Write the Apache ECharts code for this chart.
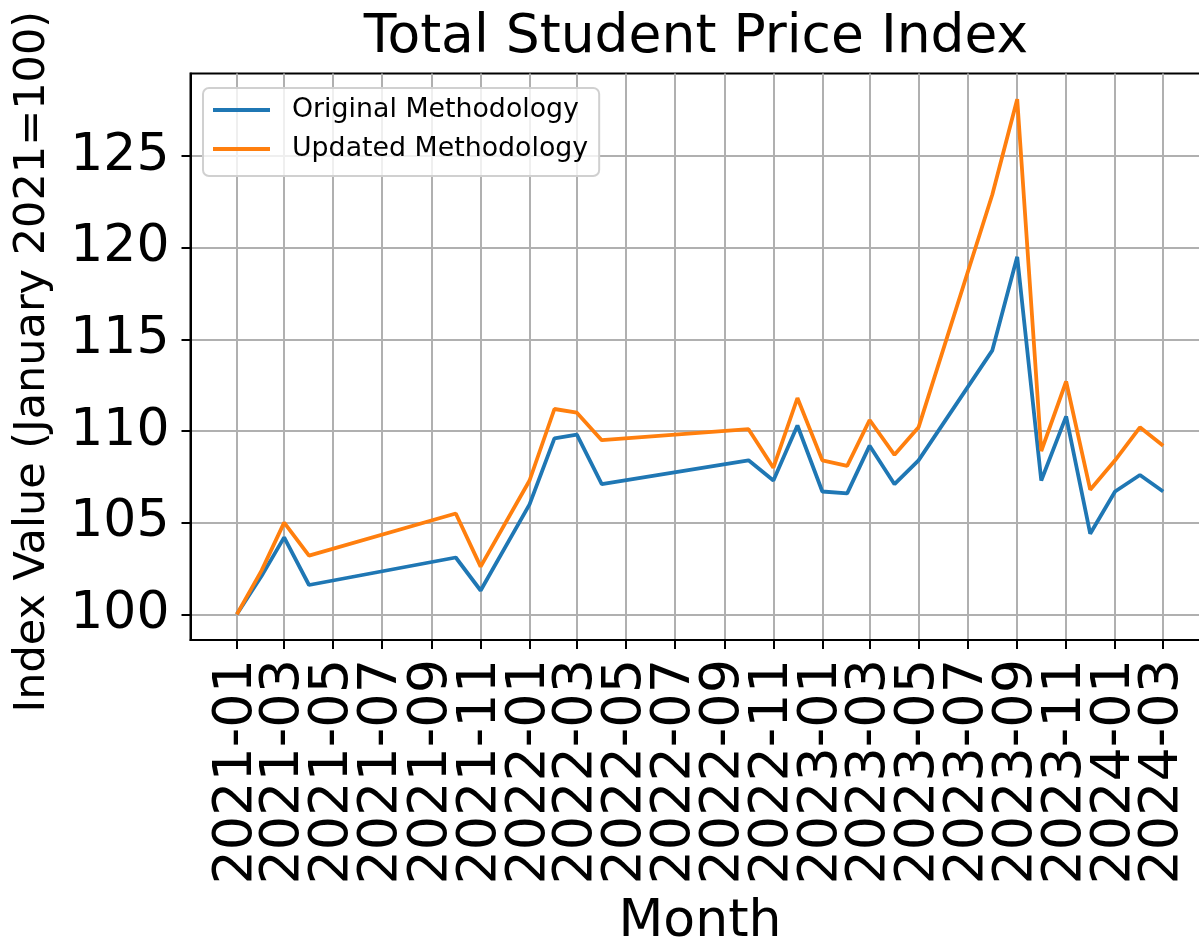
<!DOCTYPE html>
<html>
<head>
<meta charset="utf-8">
<script src="https://cdn.jsdelivr.net/npm/echarts@6/dist/echarts.min.js"></script>
<style>
  html, body { margin: 0; padding: 0; background: #fff; }
  #chart { width: 1199px; height: 942px; }
</style>
</head>
<body>
<div id="chart"></div>
<script>
// months that have a survey value (gaps are joined by straight lines)
const months = ['2021-01', '2021-02', '2021-03', '2021-04', '2021-10', '2021-11',
  '2022-01', '2022-02', '2022-03', '2022-04', '2022-10', '2022-11', '2022-12',
  '2023-01', '2023-02', '2023-03', '2023-04', '2023-05', '2023-08', '2023-09',
  '2023-10', '2023-11', '2023-12', '2024-01', '2024-02', '2024-03'];
const originalValues = [100, 102.1, 104.2, 101.6, 103.1, 101.3,
  106.0, 109.6, 109.8, 107.1, 108.4, 107.3, 110.3,
  106.7, 106.6, 109.2, 107.1, 108.4, 114.4, 119.5,
  107.3, 110.8, 104.4, 106.7, 107.6, 106.7];
const updatedValues = [100, 102.4, 105.0, 103.2, 105.5, 102.6,
  107.3, 111.2, 111.0, 109.5, 110.1, 108.0, 111.8,
  108.4, 108.1, 110.6, 108.7, 110.2, 122.9, 128.1,
  108.9, 112.7, 106.8, 108.4, 110.2, 109.2];
// x tick labels, every second month
const tickMonths = ['2021-01', '2021-03', '2021-05', '2021-07', '2021-09', '2021-11',
  '2022-01', '2022-03', '2022-05', '2022-07', '2022-09', '2022-11',
  '2023-01', '2023-03', '2023-05', '2023-07', '2023-09', '2023-11',
  '2024-01', '2024-03'];
const yTicks = [100, 105, 110, 115, 120, 125];

const FONT = 'DejaVu Sans';

function toTime(m) {
  const p = m.split('-');
  return new Date(+p[0], +p[1] - 1, 1).getTime();
}
function fmtMonth(v) {
  const d = new Date(v);
  return d.getFullYear() + '-' + String(d.getMonth() + 1).padStart(2, '0');
}

const t0 = toTime(months[0]);
const t1 = toTime(months[months.length - 1]);
const pad = (t1 - t0) * 0.05; // matplotlib style margin
// labels are dense, so they are split over two stacked x axes
// (echarts would otherwise drop neighbours of the first/last label)
const ticksA = tickMonths.filter((m, i) => i % 2 === 0).map(toTime);
const ticksB = tickMonths.filter((m, i) => i % 2 === 1).map(toTime);

function makeXAxis(ticks, main) {
  return {
    type: 'value',
    position: 'bottom',
    min: t0 - pad,
    max: t1 + pad,
    name: main ? 'Month' : '',
    nameLocation: 'middle',
    nameGap: 256,
    nameTextStyle: { fontFamily: FONT, fontSize: 52, color: '#000' },
    axisLine: { show: main, onZero: false, lineStyle: { color: '#000', width: 2 } },
    axisTick: {
      show: true,
      customValues: ticks,
      length: 9,
      lineStyle: { color: '#000', width: 2 }
    },
    axisLabel: {
      customValues: ticks,
      formatter: fmtMonth,
      rotate: 90,
      margin: 19,
      fontFamily: FONT,
      fontSize: 54,
      color: '#000',
      showMinLabel: true,
      showMaxLabel: true,
      hideOverlap: false
    },
    splitLine: { show: true, lineStyle: { color: '#b0b0b0', width: 2 } }
  };
}

const chart = echarts.init(document.getElementById('chart'));

const option = {
  backgroundColor: '#fff',
  animation: false,
  graphic: [{
    type: 'text',
    x: 696,
    y: 38,
    style: {
      text: 'Total Student Price Index',
      font: '53.5px "DejaVu Sans"',
      fill: '#000',
      align: 'center',
      verticalAlign: 'middle'
    }
  }],
  grid: {
    left: 190.5,
    right: -10.5,
    top: 73.5,
    bottom: 302,
    show: true,
    borderColor: '#000',
    borderWidth: 2,
    containLabel: false,
    outerBoundsMode: 'none'
  },
  legend: {
    orient: 'vertical',
    left: 203,
    top: 88,
    padding: [7, 11, 12, 10],
    itemGap: 9,
    itemWidth: 57,
    itemHeight: 4,
    icon: 'rect',
    backgroundColor: 'rgba(255,255,255,0.8)',
    borderColor: '#d0d0d0',
    borderWidth: 2,
    borderRadius: 6,
    textStyle: {
      fontFamily: FONT,
      fontSize: 26.8,
      color: '#000',
      lineHeight: 30,
      padding: [0, 0, 0, 17]
    },
    data: ['Original Methodology', 'Updated Methodology']
  },
  xAxis: [makeXAxis(ticksA, true), makeXAxis(ticksB, false)],
  yAxis: {
    type: 'value',
    min: 98.6,
    max: 129.5,
    name: 'Index Value (January 2021=100)',
    nameLocation: 'middle',
    nameGap: 136,
    nameTextStyle: { fontFamily: FONT, fontSize: 43, color: '#000', padding: [0, 10, 0, 0] },
    axisLine: { show: true, lineStyle: { color: '#000', width: 2 } },
    axisTick: {
      show: true,
      customValues: yTicks,
      length: 9,
      lineStyle: { color: '#000', width: 2 }
    },
    axisLabel: {
      customValues: yTicks,
      margin: 21,
      fontFamily: FONT,
      fontSize: 52,
      color: '#000',
      showMinLabel: true,
      showMaxLabel: true
    },
    splitLine: { show: true, lineStyle: { color: '#b0b0b0', width: 2 } }
  },
  series: [
    {
      name: 'Original Methodology',
      type: 'line',
      symbol: 'none',
      color: '#1f77b4',
      lineStyle: { width: 3.8, color: '#1f77b4' },
      data: months.map((m, i) => [toTime(m), originalValues[i]])
    },
    {
      name: 'Updated Methodology',
      type: 'line',
      symbol: 'none',
      color: '#ff7f0e',
      lineStyle: { width: 3.8, color: '#ff7f0e' },
      data: months.map((m, i) => [toTime(m), updatedValues[i]])
    }
  ]
};

chart.setOption(option);
</script>
</body>
</html>
